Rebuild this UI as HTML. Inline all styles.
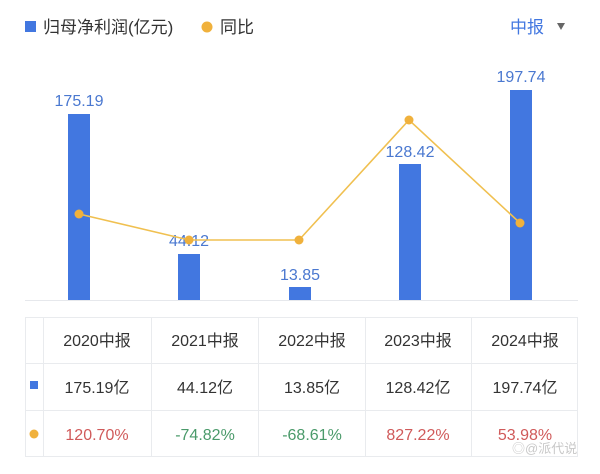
<!DOCTYPE html>
<html><head><meta charset="utf-8"><style>
body{margin:0;background:#fff;width:600px;height:469px;overflow:hidden;font-family:"Liberation Sans","Noto Sans CJK SC",sans-serif}
</style></head><body>
<svg width="600" height="469" xmlns="http://www.w3.org/2000/svg" font-family="Liberation Sans, Noto Sans CJK SC, sans-serif">
<rect x="25" y="21" width="11" height="11" fill="#4277e0"/>
<text x="43" y="33" font-size="17" fill="#333">归母净利润(亿元)</text>
<circle cx="207" cy="27" r="5.5" fill="#f0b13c"/>
<text x="220" y="33" font-size="17" fill="#333">同比</text>
<text x="510" y="33" font-size="17" fill="#4277e0">中报</text>
<path d="M557 23 L565 23 L561 30 Z" fill="#666"/>
<line x1="25" y1="300.5" x2="578" y2="300.5" stroke="#e6e8ec" stroke-width="1"/>
<g fill="#4277e0">
<rect x="68" y="114" width="22" height="186"/>
<rect x="178" y="254" width="22" height="46"/>
<rect x="289" y="287" width="22" height="13"/>
<rect x="399" y="164" width="22" height="136"/>
<rect x="510" y="90" width="22" height="210"/>
</g>
<g font-size="16" fill="#4a78d0" text-anchor="middle">
<text x="79" y="106">175.19</text>
<text x="189" y="246">44.12</text>
<text x="300" y="280">13.85</text>
<text x="410" y="157">128.42</text>
<text x="521" y="82">197.74</text>
</g>
<polyline points="79,214 189,240 299,240 409,120 520,223" fill="none" stroke="#f0c050" stroke-width="1.6"/>
<g fill="#f0b13c">
<circle cx="79" cy="214" r="4.5"/><circle cx="189" cy="240" r="4.5"/><circle cx="299" cy="240" r="4.5"/><circle cx="409" cy="120" r="4.5"/><circle cx="520" cy="223" r="4.5"/>
</g>
<g stroke="#e9ebee" stroke-width="1" fill="none">
<rect x="25.5" y="317.5" width="552" height="139"/>
<line x1="25" y1="363.5" x2="578" y2="363.5"/>
<line x1="25" y1="410.5" x2="578" y2="410.5"/>
<line x1="43.5" y1="317" x2="43.5" y2="457"/>
<line x1="151.5" y1="317" x2="151.5" y2="457"/>
<line x1="258.5" y1="317" x2="258.5" y2="457"/>
<line x1="365.5" y1="317" x2="365.5" y2="457"/>
<line x1="471.5" y1="317" x2="471.5" y2="457"/>
</g>
<g font-size="16" fill="#333" text-anchor="middle">
<text x="97" y="346">2020中报</text>
<text x="205" y="346">2021中报</text>
<text x="312" y="346">2022中报</text>
<text x="418" y="346">2023中报</text>
<text x="525" y="346">2024中报</text>
<text x="97" y="393">175.19亿</text>
<text x="205" y="393">44.12亿</text>
<text x="312" y="393">13.85亿</text>
<text x="418" y="393">128.42亿</text>
<text x="525" y="393">197.74亿</text>
</g>
<rect x="30" y="381" width="8" height="8" fill="#4277e0"/>
<circle cx="34" cy="434" r="4.5" fill="#f0b13c"/>
<g font-size="16" text-anchor="middle">
<text x="97" y="440" fill="#d05a5a">120.70%</text>
<text x="205" y="440" fill="#4a9a6a">-74.82%</text>
<text x="312" y="440" fill="#4a9a6a">-68.61%</text>
<text x="418" y="440" fill="#d05a5a">827.22%</text>
<text x="525" y="440" fill="#d05a5a">53.98%</text>
</g>
<text x="512" y="453" font-size="13" fill="#bbb" opacity="0.8">◎@派代说</text>
</svg>
</body></html>
